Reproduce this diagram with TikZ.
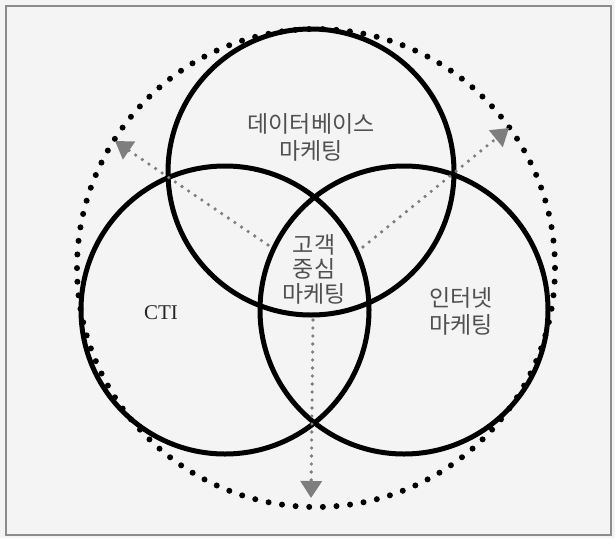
\documentclass[tikz,border=0pt]{standalone}
\usepackage{fontspec}
\setmainfont{Liberation Serif}
\newfontfamily\kr{Noto Sans CJK KR}
\usetikzlibrary{arrows.meta}
\definecolor{bg}{HTML}{F3F4F3}
\definecolor{frame}{HTML}{8C8C8C}
\definecolor{txt}{HTML}{505050}
\definecolor{arr}{HTML}{7E7E7E}
\tikzset{
  ring/.style={circle, draw=black, line width=5pt, inner sep=0pt},
  dotring/.style={draw=black, line width=6pt, line cap=round, dash pattern=on 0pt off 13.652pt},
  flow/.style={draw=arr, line width=3.6pt, line cap=round, dash pattern=on 0pt off 8pt,
    -{Triangle[length=17pt,width=21pt,fill=arr,color=arr]}, shorten >=0pt},
  krlabel/.style={font=\kr\fontsize{23}{27}\selectfont, text=txt, inner sep=0pt},
}
\begin{document}
\begin{tikzpicture}[x=1pt,y=-1pt]
\useasboundingbox (0,0) rectangle (615,538);
\fill[bg] (0,0) rectangle (615,538);
\draw[frame, line width=1.5pt] (6,6) rectangle (611,535);
% dotted outer circle
\draw[dotring] (316,268) circle (239);
% three rings
\node[ring, minimum size=286pt] (db) at (311,172) {};
\node[ring, minimum size=288pt] (cti) at (225,310) {};
\node[ring, minimum size=288pt] (net) at (404,310) {};
% arrows
\coordinate (s1) at (268,245);
\coordinate (t1) at (115,141);
\coordinate (s2) at (363,247);
\coordinate (t2) at (509,128);
\coordinate (s3) at (313,320);
\coordinate (t3) at (311,498);
\draw[flow] (s1) -- (t1);
\draw[flow] (s2) -- (t2);
\draw[flow] (s3) -- (t3);
% labels
\node[krlabel, align=center] (ldb) at (311,137) {데이터베이스\\마케팅};
\node[krlabel, align=center, font=\kr\fontsize{23}{24.5}\selectfont] (lc) at (314,269) {고객\\중심\\마케팅};
\node[krlabel, align=left, anchor=west] (lnet) at (429,311) {인터넷\\마케팅};
\node[font=\fontsize{21}{24}\selectfont, text=black!85, inner sep=0pt] (lcti) at (161,313) {CTI};
\end{tikzpicture}
\end{document}
